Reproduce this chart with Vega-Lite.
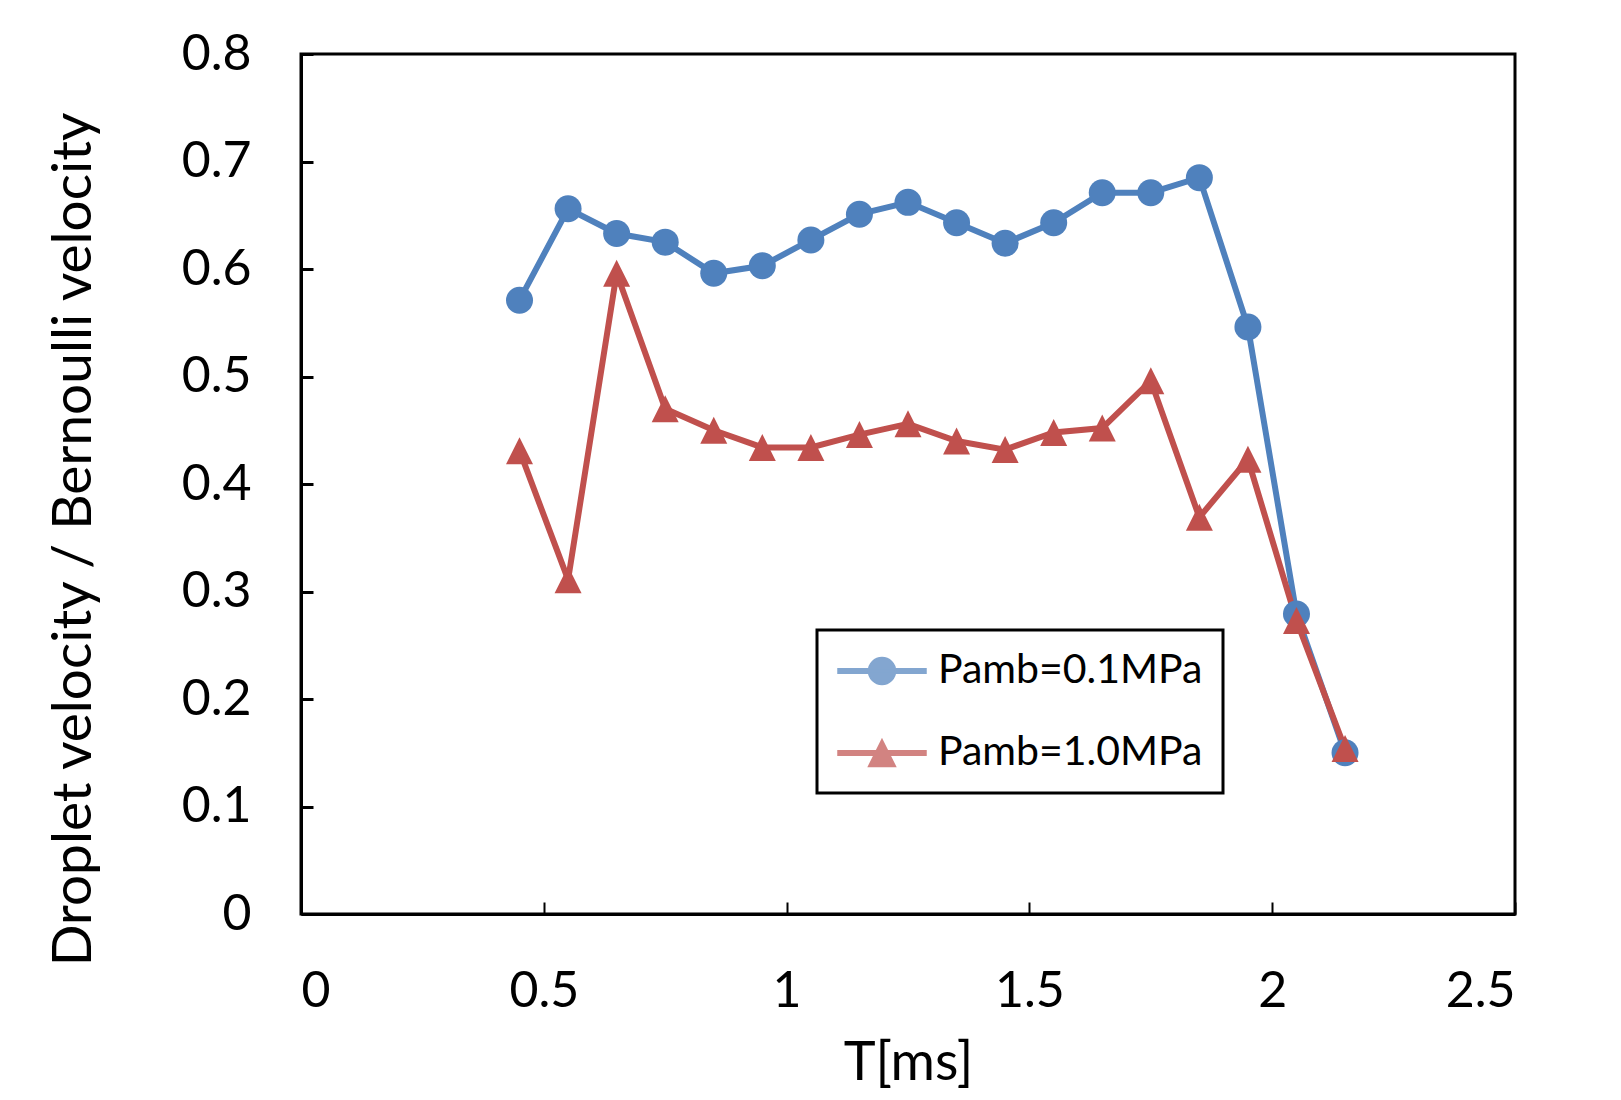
{
  "$schema": "https://vega.github.io/schema/vega-lite/v6.json",
  "width": 1214,
  "height": 860,
  "autosize": {"type": "none"},
  "padding": {"left": 301, "top": 54, "right": 106, "bottom": 186},
  "background": "white",
  "data": {"values": [
    {"t": 0.45, "v": 0.571, "s": "Pamb=0.1MPa"},
    {"t": 0.55, "v": 0.656, "s": "Pamb=0.1MPa"},
    {"t": 0.65, "v": 0.633, "s": "Pamb=0.1MPa"},
    {"t": 0.75, "v": 0.625, "s": "Pamb=0.1MPa"},
    {"t": 0.85, "v": 0.596, "s": "Pamb=0.1MPa"},
    {"t": 0.95, "v": 0.603, "s": "Pamb=0.1MPa"},
    {"t": 1.05, "v": 0.627, "s": "Pamb=0.1MPa"},
    {"t": 1.15, "v": 0.651, "s": "Pamb=0.1MPa"},
    {"t": 1.25, "v": 0.662, "s": "Pamb=0.1MPa"},
    {"t": 1.35, "v": 0.643, "s": "Pamb=0.1MPa"},
    {"t": 1.45, "v": 0.624, "s": "Pamb=0.1MPa"},
    {"t": 1.55, "v": 0.643, "s": "Pamb=0.1MPa"},
    {"t": 1.65, "v": 0.671, "s": "Pamb=0.1MPa"},
    {"t": 1.75, "v": 0.671, "s": "Pamb=0.1MPa"},
    {"t": 1.85, "v": 0.685, "s": "Pamb=0.1MPa"},
    {"t": 1.95, "v": 0.546, "s": "Pamb=0.1MPa"},
    {"t": 2.05, "v": 0.279, "s": "Pamb=0.1MPa"},
    {"t": 2.15, "v": 0.150, "s": "Pamb=0.1MPa"},
    {"t": 0.45, "v": 0.431, "s": "Pamb=1.0MPa"},
    {"t": 0.55, "v": 0.311, "s": "Pamb=1.0MPa"},
    {"t": 0.65, "v": 0.596, "s": "Pamb=1.0MPa"},
    {"t": 0.75, "v": 0.470, "s": "Pamb=1.0MPa"},
    {"t": 0.85, "v": 0.450, "s": "Pamb=1.0MPa"},
    {"t": 0.95, "v": 0.434, "s": "Pamb=1.0MPa"},
    {"t": 1.05, "v": 0.434, "s": "Pamb=1.0MPa"},
    {"t": 1.15, "v": 0.446, "s": "Pamb=1.0MPa"},
    {"t": 1.25, "v": 0.456, "s": "Pamb=1.0MPa"},
    {"t": 1.35, "v": 0.440, "s": "Pamb=1.0MPa"},
    {"t": 1.45, "v": 0.432, "s": "Pamb=1.0MPa"},
    {"t": 1.55, "v": 0.448, "s": "Pamb=1.0MPa"},
    {"t": 1.65, "v": 0.452, "s": "Pamb=1.0MPa"},
    {"t": 1.75, "v": 0.496, "s": "Pamb=1.0MPa"},
    {"t": 1.85, "v": 0.369, "s": "Pamb=1.0MPa"},
    {"t": 1.95, "v": 0.423, "s": "Pamb=1.0MPa"},
    {"t": 2.05, "v": 0.273, "s": "Pamb=1.0MPa"},
    {"t": 2.15, "v": 0.154, "s": "Pamb=1.0MPa"}
  ]},
  "encoding": {
    "x": {
      "field": "t", "type": "quantitative",
      "scale": {"domain": [0, 2.5], "nice": false, "zero": false},
      "axis": {
        "title": "T[ms]", "values": [0, 0.5, 1, 1.5, 2, 2.5], "format": ".1~f",
        "grid": false, "tickSize": -12, "tickWidth": 2, "tickColor": "black",
        "domainColor": "black", "domainWidth": 3,
        "labelFont": "Lato", "labelFontSize": 50, "labelColor": "black", "labelPadding": 64,
        "titleFont": "Lato", "titleFontSize": 54, "titleFontWeight": "normal", "titleColor": "black", "titlePadding": 20
      }
    },
    "y": {
      "field": "v", "type": "quantitative",
      "scale": {"domain": [0, 0.8], "nice": false, "zero": false},
      "axis": {
        "title": "Droplet velocity / Bernoulli velocity",
        "values": [0, 0.1, 0.2, 0.3, 0.4, 0.5, 0.6, 0.7, 0.8], "format": ".1~f",
        "grid": false, "tickSize": -12, "tickWidth": 3, "tickColor": "black",
        "domainColor": "black", "domainWidth": 3,
        "labelFont": "Lato", "labelFontSize": 50, "labelColor": "black", "labelPadding": 62,
        "titleFont": "Lato", "titleFontSize": 55, "titleFontWeight": "normal", "titleColor": "black", "titlePadding": 79,
        "titleY": 485
      }
    },
    "color": {
      "field": "s", "type": "nominal",
      "scale": {"domain": ["Pamb=0.1MPa", "Pamb=1.0MPa"], "range": ["#4F81BD", "#C0504D"]},
      "legend": {
        "title": null, "orient": "none", "legendX": 516, "legendY": 576,
        "symbolSize": 1600, "labelOffset": 59, "rowPadding": 41, "padding": 20,
        "labelFont": "Lato", "labelFontSize": 41, "labelColor": "black", "labelLimit": 500,
        "strokeColor": "black", "fillColor": "white"
      }
    }
  },
  "layer": [
    {
      "mark": {"type": "point", "filled": true, "size": 0},
      "encoding": {
        "shape": {
          "field": "s", "type": "nominal",
          "scale": {
            "domain": ["Pamb=0.1MPa", "Pamb=1.0MPa"],
            "range": [
              "M-1,-0.11H3.4V0.11H-1Z M1.875,0 A0.675,0.675 0 1,1 0.525,0 A0.675,0.675 0 1,1 1.875,0Z",
              "M-1,-0.11H3.4V0.11H-1Z M1.2,-0.675L1.875,0.675L0.525,0.675Z"
            ]
          },
          "legend": {
            "title": null, "orient": "none", "legendX": 516, "legendY": 576,
            "symbolSize": 1600, "labelOffset": 59, "rowPadding": 41, "padding": 20,
            "labelFont": "Lato", "labelFontSize": 41, "labelColor": "black", "labelLimit": 500,
            "strokeColor": "black", "fillColor": "white"
          }
        }
      }
    },
    {
      "mark": {"type": "line", "strokeWidth": 6}
    },
    {
      "transform": [{"filter": "datum.s === 'Pamb=0.1MPa'"}],
      "mark": {"type": "circle", "opacity": 1, "size": 729}
    },
    {
      "transform": [{"filter": "datum.s === 'Pamb=1.0MPa'"}],
      "mark": {"type": "point", "filled": true, "opacity": 1, "size": 729, "shape": "M0,-1L1,1L-1,1Z"}
    }
  ],
  "config": {
    "view": {"stroke": "black", "strokeWidth": 3},
    "legend": {"strokeWidth": 3}
  }
}
